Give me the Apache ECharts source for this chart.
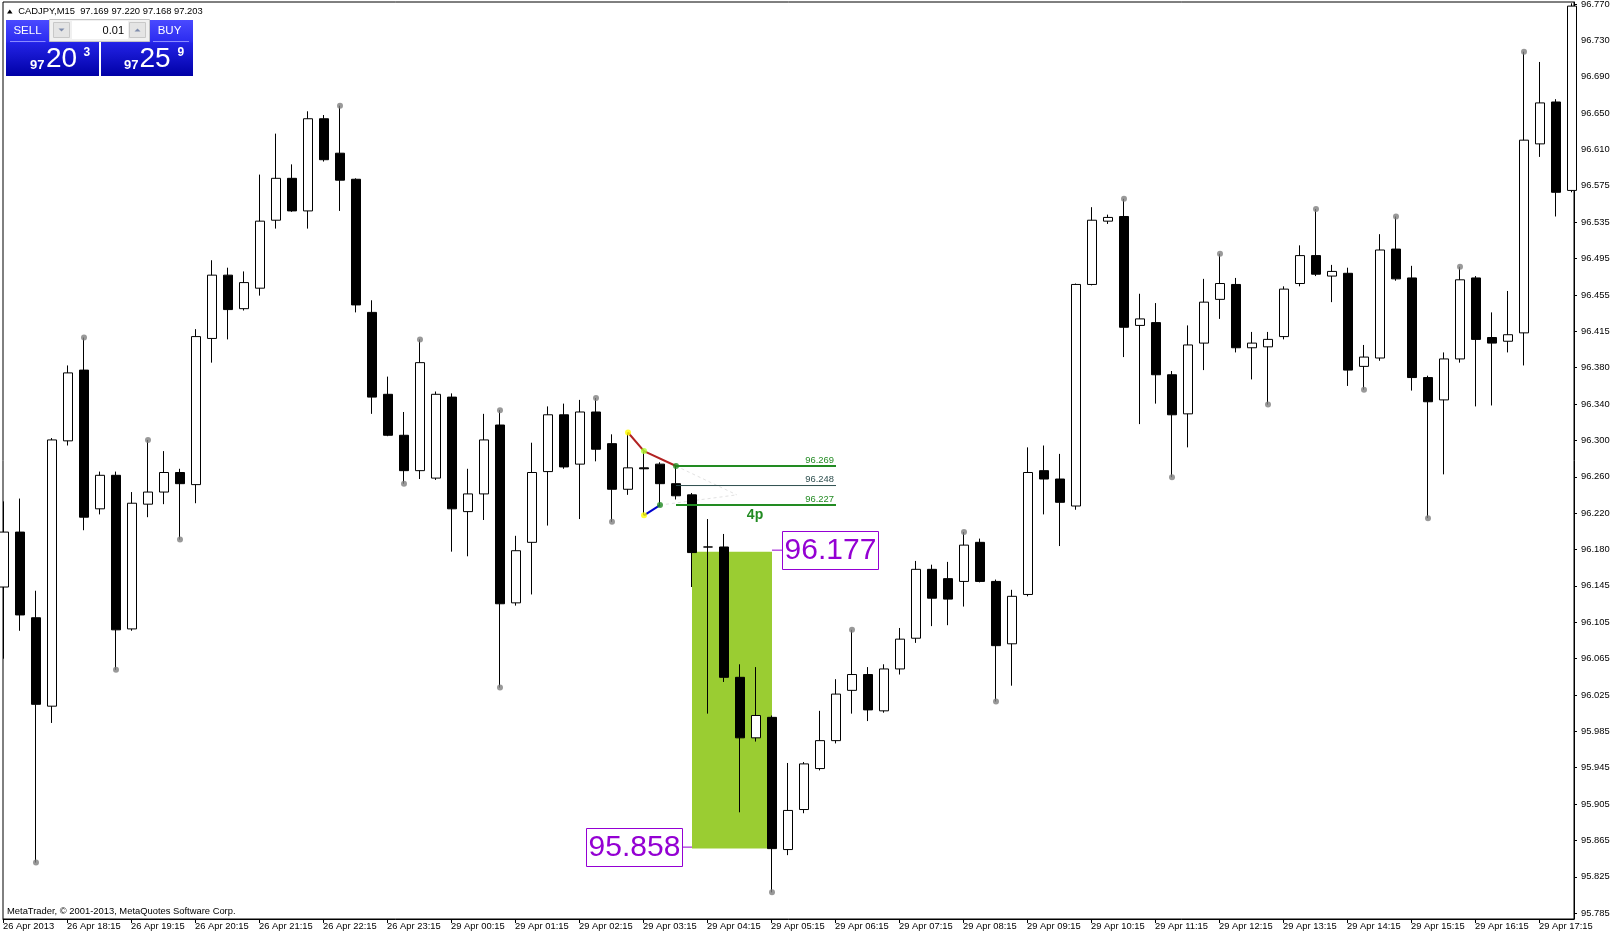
<!DOCTYPE html>
<html><head><meta charset="utf-8">
<script src="https://cdn.jsdelivr.net/npm/echarts@6/dist/echarts.min.js"></script>
<style>html,body{margin:0;padding:0;background:#fff;overflow:hidden}#c{width:1614px;height:936px}</style>
</head><body><div id="c"></div>
<script>
// ---- data (CADJPY M15) ----
const opens  = [96.139,96.198,96.106,96.011,96.296,96.372,96.223,96.259,96.094,96.228,
                96.241,96.262,96.249,96.406,96.474,96.438,96.460,96.533,96.578,96.543,
                96.642,96.605,96.577,96.434,96.346,96.302,96.264,96.256,96.343,96.220,
                96.239,96.313,96.122,96.187,96.263,96.324,96.271,96.327,96.293,96.244,
                96.267,96.271,96.250,96.238,96.182,96.182,96.042,95.977,95.999,95.857,
                95.900,95.944,95.974,96.028,96.045,96.006,96.051,96.084,96.158,96.148,
                96.145,96.187,96.145,96.078,96.131,96.264,96.255,96.226,96.464,96.532,
                96.537,96.420,96.423,96.367,96.325,96.401,96.448,96.464,96.396,96.397,
                96.408,96.465,96.495,96.473,96.476,96.376,96.385,96.502,96.471,96.364,
                96.340,96.384,96.471,96.407,96.403,96.412,96.615,96.660,96.565];
const highs  = [96.231,96.234,96.135,96.299,96.377,96.407,96.263,96.263,96.241,96.297,
                96.285,96.266,96.416,96.490,96.482,96.478,96.582,96.626,96.593,96.650,
                96.646,96.656,96.578,96.447,96.365,96.327,96.405,96.349,96.347,96.266,
                96.325,96.329,96.194,96.294,96.333,96.336,96.340,96.342,96.303,96.305,
                96.285,96.273,96.269,96.240,96.212,96.196,96.056,96.053,96.001,95.950,
                95.951,96.006,96.040,96.093,96.053,96.056,96.095,96.167,96.163,96.166,
                96.198,96.191,96.147,96.136,96.289,96.291,96.282,96.465,96.547,96.539,
                96.556,96.454,96.444,96.371,96.420,96.470,96.497,96.471,96.413,96.413,
                96.462,96.506,96.545,96.485,96.482,96.399,96.518,96.537,96.484,96.366,
                96.391,96.483,96.473,96.434,96.457,96.714,96.703,96.663,96.766];
const lows   = [96.062,96.092,95.843,95.993,96.291,96.200,96.217,96.050,96.092,96.214,
                96.228,96.190,96.229,96.380,96.405,96.436,96.452,96.524,96.542,96.524,
                96.596,96.543,96.434,96.325,96.301,96.250,96.255,96.254,96.177,96.172,
                96.211,96.031,96.119,96.131,96.205,96.266,96.212,96.274,96.209,96.238,
                96.216,96.227,96.233,96.139,96.003,96.037,95.897,95.973,95.811,95.851,
                95.896,95.942,95.971,96.003,95.995,96.004,96.045,96.079,96.097,96.098,
                96.118,96.144,96.016,96.033,96.129,96.217,96.183,96.222,96.463,96.529,
                96.386,96.314,96.336,96.257,96.289,96.372,96.427,96.391,96.362,96.335,
                96.405,96.462,96.473,96.445,96.355,96.351,96.382,96.468,96.350,96.213,
                96.260,96.380,96.333,96.334,96.391,96.377,96.601,96.537,96.563];
const closes = [96.198,96.109,96.013,96.297,96.369,96.214,96.259,96.093,96.229,96.241,
                96.262,96.250,96.408,96.474,96.437,96.466,96.532,96.578,96.543,96.642,
                96.598,96.576,96.442,96.343,96.302,96.264,96.380,96.346,96.223,96.239,
                96.297,96.121,96.178,96.262,96.324,96.268,96.327,96.287,96.244,96.267,
                96.266,96.250,96.237,96.176,96.182,96.042,95.977,96.001,95.858,95.899,
                95.949,95.974,96.024,96.045,96.007,96.051,96.083,96.158,96.127,96.126,
                96.184,96.145,96.076,96.129,96.262,96.255,96.230,96.464,96.533,96.536,
                96.418,96.427,96.367,96.324,96.399,96.445,96.465,96.396,96.401,96.405,
                96.459,96.495,96.475,96.478,96.372,96.386,96.501,96.470,96.364,96.338,
                96.384,96.469,96.405,96.401,96.410,96.619,96.659,96.563,96.763];
const timeLabels = ['26 Apr 2013','26 Apr 18:15','26 Apr 19:15','26 Apr 20:15','26 Apr 21:15',
  '26 Apr 22:15','26 Apr 23:15','29 Apr 00:15','29 Apr 01:15','29 Apr 02:15','29 Apr 03:15',
  '29 Apr 04:15','29 Apr 05:15','29 Apr 06:15','29 Apr 07:15','29 Apr 08:15','29 Apr 09:15',
  '29 Apr 10:15','29 Apr 11:15','29 Apr 12:15','29 Apr 13:15','29 Apr 14:15','29 Apr 15:15',
  '29 Apr 16:15','29 Apr 17:15'];
const priceLabels = ['96.770','96.730','96.690','96.650','96.610','96.575','96.535','96.495',
  '96.455','96.415','96.380','96.340','96.300','96.260','96.220','96.180','96.145','96.105',
  '96.065','96.025','95.985','95.945','95.905','95.865','95.825','95.785'];
const fractalUp   = [5,9,21,26,31,37,53,60,70,76,82,87,91,95];
const fractalDown = [2,7,11,25,31,38,48,62,73,79,85,89];
const zoneBars   = [43, 48];
const zonePrices = [96.177, 95.858];
const fibBars    = [42, 52];
const fibLevels  = [96.269, 96.248, 96.227];
const zigHighBars = [39, 40, 42];
const zigLowBars  = [40, 41];
const pipText = '4p';
const headerText = 'CADJPY,M15  97.169 97.220 97.168 97.203';
const bidParts = ['97', '20', '3'];
const askParts = ['97', '25', '9'];
const lotText = '0.01';
const copyright = 'MetaTrader, \u00a9 2001-2013, MetaQuotes Software Corp.';

// ---- layout ----
const FONT = '"Liberation Sans", Arial, sans-serif';
const FS = 9.4;
const yMin = 95.7824, yMax = 96.7674;
const firstTickPrice = 96.7653, lastTickPrice = 95.7886;
const yTicks = priceLabels.map((_, n) => firstTickPrice - n * (firstTickPrice - lastTickPrice) / (priceLabels.length - 1));
const TICK_SHIFT = 0.06;
const xTicks = timeLabels.map((_, k) => k * 4 - TICK_SHIFT);

const chart = echarts.init(document.getElementById('c'), null, {renderer: 'canvas'});

const grad = new echarts.graphic.LinearGradient(0, 0, 0, 1, [
  {offset: 0, color: '#4a4aff'}, {offset: 0.38, color: '#2c2cf0'},
  {offset: 0.42, color: '#2222e4'}, {offset: 1, color: '#0000a6'}]);

function txt(x, y, text, font, fill, align) {
  return {type: 'text', z: 110, style: {x, y, text, font, fill, align: align || 'left', verticalAlign: 'middle'}};
}

const graphics = [
  {type: 'polygon', z: 100, shape: {points: [[7, 13.5], [12.5, 13.5], [9.75, 9.5]]}, style: {fill: '#000'}},
  txt(18.3, 11, headerText, FS + 'px ' + FONT, '#000'),
  {type: 'rect', z: 100, shape: {x: 6, y: 20, width: 93, height: 56}, style: {fill: grad}},
  {type: 'rect', z: 100, shape: {x: 101, y: 20, width: 92, height: 56}, style: {fill: grad}},
  {type: 'line', z: 101, shape: {x1: 10, y1: 41.5, x2: 45.5, y2: 41.5}, style: {stroke: '#8a8aff', lineWidth: 1}},
  {type: 'line', z: 101, shape: {x1: 153, y1: 41.5, x2: 189, y2: 41.5}, style: {stroke: '#8a8aff', lineWidth: 1}},
  {type: 'rect', z: 101, shape: {x: 49.5, y: 19.5, width: 100, height: 22}, style: {fill: '#f0f0f0', stroke: '#c4c4c4', lineWidth: 1}},
  {type: 'rect', z: 102, shape: {x: 53.5, y: 22.5, width: 16, height: 15}, style: {fill: '#e4e4e4', stroke: '#c8c8c8', lineWidth: 1}},
  {type: 'polygon', z: 103, shape: {points: [[58.5, 28.5], [64.5, 28.5], [61.5, 31.5]]}, style: {fill: '#7f8cab'}},
  {type: 'rect', z: 102, shape: {x: 72, y: 21, width: 56, height: 18}, style: {fill: '#fff'}},
  {type: 'rect', z: 102, shape: {x: 129.5, y: 22.5, width: 16, height: 15}, style: {fill: '#e4e4e4', stroke: '#c8c8c8', lineWidth: 1}},
  {type: 'polygon', z: 103, shape: {points: [[134.5, 31.5], [140.5, 31.5], [137.5, 28.5]]}, style: {fill: '#7f8cab'}},
  txt(124, 30.5, lotText, '11px ' + FONT, '#000', 'right'),
  txt(27.5, 30.5, 'SELL', '11.5px ' + FONT, '#fff', 'center'),
  txt(169.5, 30.5, 'BUY', '11.5px ' + FONT, '#fff', 'center'),
  txt(30, 65.5, bidParts[0], 'bold 13px ' + FONT, '#fff'),
  txt(46, 59.5, bidParts[1], '28px ' + FONT, '#fff'),
  txt(83.5, 52.5, bidParts[2], 'bold 12px ' + FONT, '#fff'),
  txt(124, 65.5, askParts[0], 'bold 13px ' + FONT, '#fff'),
  txt(139.5, 59.5, askParts[1], '28px ' + FONT, '#fff'),
  txt(177.5, 52.5, askParts[2], 'bold 12px ' + FONT, '#fff'),
  txt(7, 911, copyright, FS + 'px ' + FONT, '#000')
];

const candleData = opens.map((o, i) => [i, o, closes[i], lows[i], highs[i]]);
const fractalData = fractalUp.map(i => [i, highs[i]]).concat(fractalDown.map(i => [i, lows[i]]));

const option = {
  animation: false,
  backgroundColor: '#fff',
  grid: {left: 3, top: 2, right: 40, bottom: 17, show: true, borderColor: '#000', borderWidth: 1,
         containLabel: false, outerBoundsMode: 'none'},
  xAxis: {
    type: 'value', min: -0.0625, max: 98.125,
    axisLine: {show: true, onZero: false, lineStyle: {color: '#000', width: 1}},
    axisTick: {show: true, length: 4, customValues: xTicks, lineStyle: {color: '#000'}},
    axisLabel: {customValues: xTicks, align: 'left', margin: 3, color: '#000', fontFamily: FONT, fontSize: FS,
                formatter: v => timeLabels[Math.round((v + TICK_SHIFT) / 4)] || ''},
    splitLine: {show: false}
  },
  yAxis: {
    type: 'value', position: 'right', min: yMin, max: yMax, scale: true,
    axisLine: {show: true, onZero: false, lineStyle: {color: '#000', width: 1}},
    axisTick: {show: true, length: 3, customValues: yTicks, lineStyle: {color: '#000'}},
    axisLabel: {customValues: yTicks, margin: 7, color: '#000', fontFamily: FONT, fontSize: FS,
      formatter: v => { let b = 0, bd = 1e9; yTicks.forEach((t, j) => { const d = Math.abs(t - v); if (d < bd) { bd = d; b = j; } }); return priceLabels[b]; }},
    splitLine: {show: false}
  },
  graphic: graphics,
  series: [
    { // price zone rectangle
      type: 'custom', z: 1, silent: true, clip: true,
      data: [[zoneBars[0], zonePrices[0], zoneBars[1], zonePrices[1]]],
      renderItem: (params, api) => {
        const p0 = api.coord([api.value(0), api.value(1)]);
        const p1 = api.coord([api.value(2), api.value(3)]);
        return {type: 'rect', shape: {x: p0[0], y: p0[1], width: p1[0] - p0[0], height: p1[1] - p0[1]}, style: {fill: '#9ACD32'}};
      }
    },
    { // faint dashed helper lines
      type: 'custom', z: 2, silent: true,
      data: [[fibBars[0], fibLevels[0]], [zigLowBars[1], fibLevels[2]]],
      renderItem: (params, api) => {
        const a = api.coord([api.value(0), api.value(1)]);
        const b = api.coord([45.8, (fibLevels[1] + fibLevels[2]) / 2 + 0.0005]);
        return {type: 'line', shape: {x1: a[0], y1: a[1], x2: b[0], y2: b[1]}, style: {stroke: '#e2e2e2', lineWidth: 1, lineDash: [3, 3]}};
      }
    },
    { // fibo levels
      type: 'custom', z: 4, silent: true,
      data: fibLevels.map((v, i) => [fibBars[0], v, fibBars[1], i]),
      renderItem: (params, api) => {
        const i = api.value(3);
        const a = api.coord([api.value(0), api.value(1)]);
        const b = api.coord([api.value(2), api.value(1)]);
        const col = i === 1 ? '#2F4F4F' : '#228B22';
        return {type: 'group', children: [
          {type: 'line', shape: {x1: a[0], y1: a[1], x2: b[0], y2: b[1]}, style: {stroke: col, lineWidth: i === 1 ? 1 : 2}},
          {type: 'text', style: {x: b[0] - 2, y: a[1] - 1.5, text: fibLevels[i].toFixed(3), font: FS + 'px ' + FONT, fill: col, align: 'right', verticalAlign: 'bottom'}}
        ]};
      }
    },
    { // pip distance label
      type: 'custom', z: 4, silent: true,
      data: [[46.94, fibLevels[2]]],
      renderItem: (params, api) => {
        const p = api.coord([api.value(0), api.value(1)]);
        return {type: 'text', style: {x: p[0], y: p[1] + 10, text: pipText, font: 'bold 14px ' + FONT, fill: '#228B22', align: 'center', verticalAlign: 'middle'}};
      }
    },
    {
      type: 'candlestick', z: 3, silent: true, clip: true, barWidth: 10,
      data: candleData,
      itemStyle: {color: '#fff', color0: '#000', borderColor: '#000', borderColor0: '#000', borderColorDoji: '#000', borderWidth: 1}
    },
    { // zone price labels
      type: 'custom', z: 6, silent: true,
      data: [[zoneBars[1], zonePrices[0], 1], [zoneBars[0], zonePrices[1], -1]],
      renderItem: (params, api) => {
        const side = api.value(2);
        const p = api.coord([api.value(0), api.value(1)]);
        const gap = 10, w = 96, h = 38;
        const bx = side > 0 ? p[0] + gap : p[0] - gap - w;
        const cy = p[1] - 1.5;
        const lbl = api.value(1).toFixed(3);
        return {type: 'group', children: [
          {type: 'line', shape: {x1: p[0], y1: cy, x2: side > 0 ? bx : bx + w, y2: cy}, style: {stroke: '#9400D3', lineWidth: 1}},
          {type: 'rect', shape: {x: bx + 0.5, y: Math.round(cy - h / 2) + 0.5, width: w, height: h}, style: {fill: '#fff', stroke: '#9400D3', lineWidth: 1}},
          {type: 'text', style: {x: bx + w / 2 + 0.5, y: cy + 1, text: lbl, font: '30px ' + FONT, fill: '#9400D3', align: 'center', verticalAlign: 'middle'}}
        ]};
      }
    },
    {
      type: 'scatter', z: 5, silent: true, symbolSize: 6,
      itemStyle: {color: '#808080'},
      data: fractalData
    },
    {
      type: 'line', z: 5, silent: true, symbol: 'none',
      lineStyle: {color: '#B22222', width: 2},
      data: zigHighBars.map(i => [i, highs[i]])
    },
    {
      type: 'line', z: 5, silent: true, symbol: 'none',
      lineStyle: {color: '#0000CD', width: 2},
      data: zigLowBars.map(i => [i, lows[i]])
    },
    {
      type: 'scatter', z: 6, silent: true, symbolSize: 6,
      data: [
        {value: [zigHighBars[0], highs[zigHighBars[0]]], itemStyle: {color: '#FFFF00'}},
        {value: [zigHighBars[1], highs[zigHighBars[1]]], itemStyle: {color: '#ADFF2F'}},
        {value: [zigHighBars[2], highs[zigHighBars[2]]], itemStyle: {color: '#228B22'}},
        {value: [zigLowBars[0], lows[zigLowBars[0]]], itemStyle: {color: '#FFFF00'}},
        {value: [zigLowBars[1], lows[zigLowBars[1]]], itemStyle: {color: '#228B22'}}
      ]
    }
  ]
};
chart.setOption(option);
</script></body></html>
